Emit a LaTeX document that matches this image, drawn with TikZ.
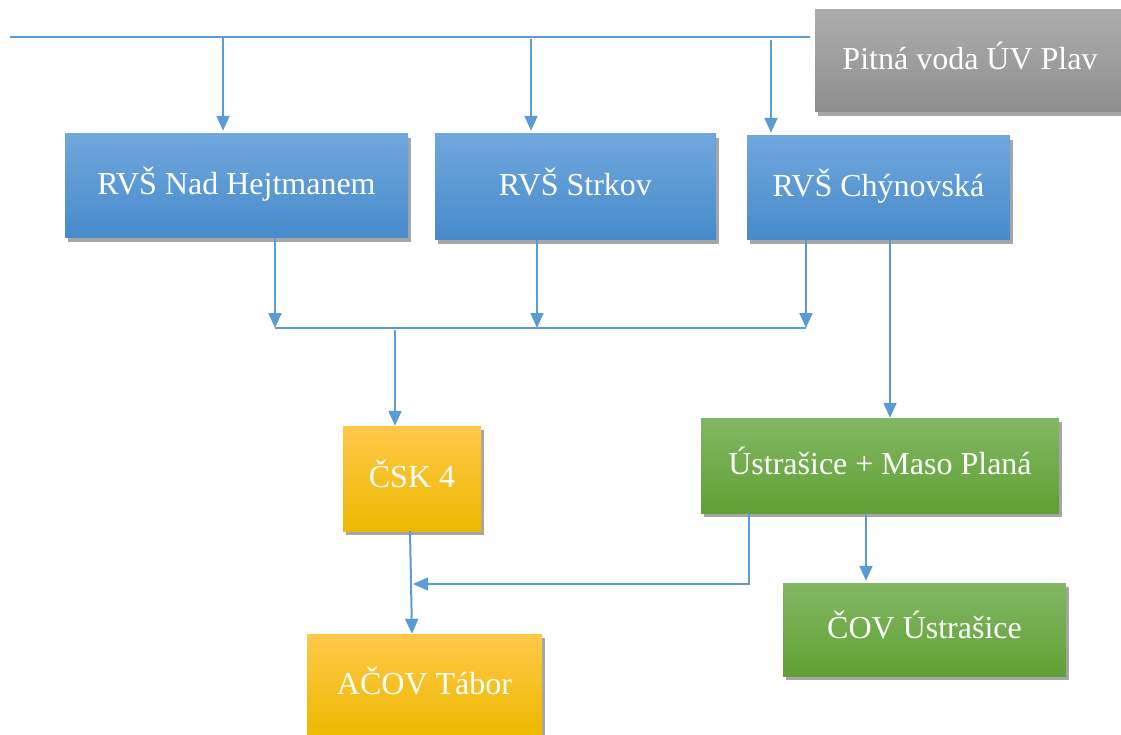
\documentclass[tikz,border=0pt]{standalone}
\usepackage{fontspec}
\setmainfont{Liberation Serif}
\usetikzlibrary{arrows.meta,shadows,calc}
\definecolor{lineblue}{HTML}{5B9BD5}
\definecolor{bluetop}{HTML}{70A7DD}
\definecolor{bluebot}{HTML}{478BCB}
\definecolor{graytop}{HTML}{ADADAD}
\definecolor{graybot}{HTML}{8E8E8E}
\definecolor{yeltop}{HTML}{FFC84A}
\definecolor{yelbot}{HTML}{EDB900}
\definecolor{greentop}{HTML}{82B864}
\definecolor{greenbot}{HTML}{61A034}
\tikzset{
  box/.style={rectangle, inner sep=0pt, text=white,
    font=\fontsize{32}{36}\selectfont, text height=24pt, text depth=6pt,
    drop shadow={opacity=0.35, shadow xshift=3pt, shadow yshift=-4pt, fill=black}},
  bluebox/.style={box, top color=bluetop, bottom color=bluebot},
  graybox/.style={box, top color=graytop, bottom color=graybot},
  yelbox/.style={box, top color=yeltop, bottom color=yelbot},
  greenbox/.style={box, top color=greentop, bottom color=greenbot},
  arr/.style={draw=lineblue, line width=2pt, -{Triangle[width=13pt,length=15pt]}},
  thin/.style={draw=lineblue, line width=1.4pt},
  thinarr/.style={thin, -{Triangle[width=13pt,length=15pt]}}
}
\begin{document}
\begin{tikzpicture}[x=1pt,y=-1pt]
\useasboundingbox (0,0) rectangle (1121,735);
% nodes
\node[graybox, minimum width=310pt, minimum height=102pt] (plav) at (970,61) {Pitná voda ÚV Plav};
\node[bluebox, minimum width=343pt, minimum height=104pt] (nad) at (236.5,186) {RVŠ Nad Hejtmanem};
\node[bluebox, minimum width=281pt, minimum height=106pt] (str) at (575.5,187) {RVŠ Strkov};
\node[bluebox, minimum width=263pt, minimum height=104pt] (chy) at (878.5,188) {RVŠ Chýnovská};
\node[yelbox, minimum width=138pt, minimum height=105pt] (csk) at (412,478.5) {ČSK 4};
\node[greenbox, minimum width=358pt, minimum height=95pt] (ust) at (880,465.5) {Ústrašice + Maso Planá};
\node[greenbox, minimum width=283pt, minimum height=93pt] (cov) at (924.5,629.5) {ČOV Ústrašice};
\node[yelbox, minimum width=235pt, minimum height=102pt] (acov) at (424.5,685) {AČOV Tábor};
% top supply line
\coordinate (tl) at (10,37);
\coordinate (tr) at (810,37);
\draw[thin] (tl) -- (tr);
\coordinate (t1) at (223,37);
\coordinate (t2) at (531,39);
\coordinate (t3) at (771,40);
\draw[arr, shorten >=3pt] (t1) -- (t1 |- nad.north);
\draw[arr, shorten >=3pt] (t2) -- (t2 |- str.north);
\draw[arr, shorten >=3pt] (t3) -- (t3 |- chy.north);
% collector line
\coordinate (j1) at (275,328);
\coordinate (j2) at (537,328);
\coordinate (j3) at (806,328);
\coordinate (j4) at (395,330);
\draw[arr] (j1 |- nad.south) -- (j1);
\draw[arr] (j2 |- str.south) -- (j2);
\draw[arr] (j3 |- chy.south) -- (j3);
\draw[thin] (j1) -- (j3);
\draw[arr] (j4) -- (j4 |- csk.north);
% Chýnovská to Ústrašice
\coordinate (c1) at (890,0);
\draw[arr] (c1 |- chy.south) -- (c1 |- ust.north);
% ČSK to AČOV
\coordinate (s1) at (410,0);
\coordinate (s2) at (412,0);
\draw[arr] (s1 |- csk.south) -- (s2 |- acov.north);
% Ústrašice to merge
\coordinate (u1) at (749,584);
\coordinate (m1) at (413,584);
\draw[thinarr] (u1 |- ust.south) -- (u1) -- (m1);
% Ústrašice to ČOV
\coordinate (u2) at (866,0);
\draw[arr, shorten >=2pt] (u2 |- ust.south) -- (u2 |- cov.north);
\end{tikzpicture}
\end{document}
